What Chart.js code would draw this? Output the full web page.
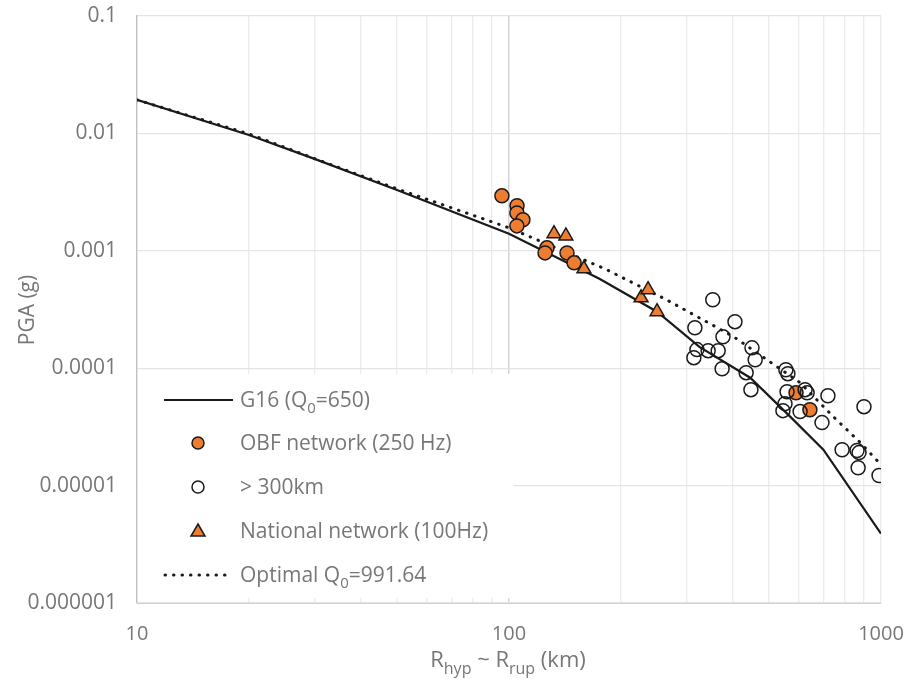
<!DOCTYPE html>
<html>
<head>
<meta charset="utf-8">
<script src="https://cdn.jsdelivr.net/npm/chart.js@4/dist/chart.umd.min.js"></script>
<style>
  html, body { margin: 0; padding: 0; background: #ffffff; }
  #wrap { width: 907px; height: 679px; }
</style>
</head>
<body>
<div id="wrap"><canvas id="pga_chart" width="907" height="679"></canvas></div>
<script>
// axis ticks
const xTicks = [10, 100, 1000];
const xTickLabels = ['10', '100', '1000'];
const yTicks = [0.000001, 0.00001, 0.0001, 0.001, 0.01, 0.1];
const yTickLabels = ['0.000001', '0.00001', '0.0001', '0.001', '0.01', '0.1'];

// G16 (Q0=650) curve
const g16R = [10, 20, 30, 50, 100, 175, 250, 325, 445, 570, 700, 1000];
const g16Pga = [0.0193, 0.0097, 0.00607, 0.0033, 0.0014, 0.000578, 0.000303, 0.000152, 0.000083, 0.0000387, 0.0000202, 0.0000039];

// Optimal Q0 = 991.64 curve
const optR = [10, 20, 30, 50, 100, 181, 265, 400, 606, 743, 873, 1000];
const optPga = [0.0193, 0.0099, 0.0061, 0.00337, 0.00157, 0.000703, 0.000383, 0.000187, 0.0000753, 0.0000389, 0.0000238, 0.0000151];

// OBF network (250 Hz)
const obfR = [95.7, 105.1, 105, 109, 105, 126.5, 125, 143.2, 149.6, 591, 644];
const obfPga = [0.00294, 0.00242, 0.0021, 0.00184, 0.00163, 0.00106, 0.00096, 0.00096, 0.00079, 0.0000618, 0.0000443];

// > 300km
const farR = [353, 405, 316, 376, 320, 343, 365, 314, 450, 459, 374, 434, 447, 555, 562, 559, 625, 633,
              720, 552, 545, 606, 694, 900, 786, 862, 873, 868, 988];
const farPga = [0.000383, 0.000249, 0.000221, 0.000185, 0.000144, 0.000141, 0.000141, 0.000123, 0.000149, 0.000118,
                0.000099, 0.0000916, 0.0000656, 0.000097, 0.0000898, 0.0000631, 0.0000656, 0.0000618,
                0.0000583, 0.0000499, 0.0000435, 0.0000427, 0.0000344, 0.000047, 0.0000202, 0.0000199, 0.0000191,
                0.0000142, 0.0000122];

// National network (100Hz)
const natR = [132.1, 142.2, 159, 226.5, 236.5, 250];
const natPga = [0.0014, 0.00134, 0.000703, 0.000398, 0.000466, 0.000303];

const ORANGE = '#ED7D31';
const TEXT_GRAY = '#777777';
const FONT = '"Open Sans", "DejaVu Sans", sans-serif';

function toPoints(xs, ys) {
    return xs.map(function(x, i) { return {x: x, y: ys[i]}; });
}

function minorTicks(min, max) {
    var out = [];
    for (var d = min; d < max; d *= 10) {
        for (var m = 1; m < 10; m++) out.push(Math.round(d * m * 1e6) / 1e6);
    }
    out.push(max);
    return out;
}

// text with subscript parts: [[text, isSub], ...]
function drawRich(ctx, parts, x, y, size, align) {
    var subSize = Math.round(size * 0.72);
    var total = 0;
    parts.forEach(function(p) {
        ctx.font = (p[1] ? subSize : size) + 'px ' + FONT;
        total += ctx.measureText(p[0]).width;
    });
    var cx = align === 'center' ? x - total / 2 : x;
    ctx.textAlign = 'left';
    ctx.textBaseline = 'alphabetic';
    parts.forEach(function(p) {
        ctx.font = (p[1] ? subSize : size) + 'px ' + FONT;
        ctx.fillText(p[0], cx, p[1] ? y + size * 0.3 : y);
        cx += ctx.measureText(p[0]).width;
    });
}

const legendItems = [
    {parts: [['G16 (Q', false], ['0', true], ['=650)', false]], kind: 'line'},
    {parts: [['OBF network (250 Hz)', false]], kind: 'orange'},
    {parts: [['> 300km', false]], kind: 'open'},
    {parts: [['National network (100Hz)', false]], kind: 'tri'},
    {parts: [['Optimal Q', false], ['0', true], ['=991.64', false]], kind: 'dots'}
];

const overlayPlugin = {
    id: 'overlay',
    beforeDatasetsDraw: function(chart) {
        var ctx = chart.ctx;
        var area = chart.chartArea;
        ctx.save();
        // legend box
        ctx.fillStyle = '#ffffff';
        ctx.fillRect(area.left + 1, 374, 375, 224);
        var rowY = [400, 443, 487, 531, 575];
        legendItems.forEach(function(item, i) {
            var y = rowY[i];
            ctx.strokeStyle = '#1a1a1a';
            ctx.fillStyle = '#ffffff';
            if (item.kind === 'line') {
                ctx.lineWidth = 2.2;
                ctx.beginPath(); ctx.moveTo(164, y); ctx.lineTo(233, y); ctx.stroke();
            } else if (item.kind === 'dots') {
                ctx.lineWidth = 3;
                ctx.lineCap = 'round';
                ctx.setLineDash([0.5, 8]);
                ctx.beginPath(); ctx.moveTo(165, y); ctx.lineTo(233, y); ctx.stroke();
                ctx.setLineDash([]);
                ctx.lineCap = 'butt';
            } else if (item.kind === 'orange' || item.kind === 'open') {
                ctx.lineWidth = 1.5;
                ctx.fillStyle = item.kind === 'orange' ? ORANGE : '#ffffff';
                ctx.beginPath(); ctx.arc(198, y, 6, 0, Math.PI * 2); ctx.fill(); ctx.stroke();
            } else if (item.kind === 'tri') {
                ctx.lineWidth = 1.5;
                ctx.fillStyle = ORANGE;
                ctx.beginPath();
                ctx.moveTo(198, y - 7); ctx.lineTo(205, y + 5); ctx.lineTo(191, y + 5);
                ctx.closePath(); ctx.fill(); ctx.stroke();
            }
            ctx.fillStyle = TEXT_GRAY;
            drawRich(ctx, item.parts, 240, y + 7, 21, 'left');
        });
        ctx.restore();
    },
    afterDraw: function(chart) {
        var ctx = chart.ctx;
        ctx.save();
        ctx.fillStyle = TEXT_GRAY;
        // x axis title
        drawRich(ctx, [['R', false], ['hyp', true], [' ~ R', false], ['rup', true], [' (km)', false]], 508, 667, 22, 'center');
        // y axis title
        ctx.translate(28, 310);
        ctx.rotate(-Math.PI / 2);
        ctx.font = '21px ' + FONT;
        ctx.textAlign = 'center';
        ctx.textBaseline = 'middle';
        ctx.fillText('PGA (g)', 0, 0);
        ctx.restore();
    }
};

document.addEventListener("DOMContentLoaded", function() {
    var statisticsItem = document.getElementById("pga_chart");

    var data = {
        datasets: [{
            label: 'G16 (Q0=650)',
            type: 'line',
            data: toPoints(g16R, g16Pga),
            borderColor: '#1a1a1a',
            borderWidth: 2.2,
            pointRadius: 0,
            fill: false,
            order: 5
        }, {
            label: 'OBF network (250 Hz)',
            data: toPoints(obfR, obfPga),
            backgroundColor: ORANGE,
            borderColor: '#1a1a1a',
            borderWidth: 1.5,
            pointRadius: 7,
            order: 3
        }, {
            label: '> 300km',
            data: toPoints(farR, farPga),
            backgroundColor: 'rgba(255,255,255,0)',
            borderColor: '#1a1a1a',
            borderWidth: 1.5,
            pointRadius: 7,
            order: 2
        }, {
            label: 'National network (100Hz)',
            data: toPoints(natR, natPga),
            pointStyle: 'triangle',
            backgroundColor: ORANGE,
            borderColor: '#1a1a1a',
            borderWidth: 1.5,
            pointRadius: 8,
            order: 1
        }, {
            label: 'Optimal Q0=991.64',
            type: 'line',
            data: toPoints(optR, optPga),
            borderColor: '#1a1a1a',
            borderWidth: 3,
            borderDash: [0.5, 8],
            borderCapStyle: 'round',
            pointRadius: 0,
            fill: false,
            order: 4
        }]
    };

    var options = {
        responsive: false,
        animation: false,
        layout: { padding: { top: 16, right: 26, left: 0, bottom: 0 } },
        plugins: {
            legend: { display: false },
            tooltip: { enabled: false }
        },
        scales: {
            x: {
                type: 'logarithmic',
                min: 10,
                max: 1000,
                afterBuildTicks: function(scale) {
                    scale.ticks = minorTicks(10, 1000).map(function(v) { return {value: v}; });
                },
                afterFit: function(scale) {
                    scale.height = 76;
                    scale.paddingLeft = 0;
                    scale.paddingRight = 0;
                },
                ticks: {
                    autoSkip: false,
                    maxRotation: 0,
                    padding: 19,
                    color: TEXT_GRAY,
                    font: { family: FONT, size: 20 },
                    callback: function(value) {
                        var i = xTicks.indexOf(value);
                        return i >= 0 ? xTickLabels[i] : '';
                    }
                },
                grid: {
                    drawTicks: false,
                    color: function(c) {
                        return c.tick && c.tick.value === 100 ? '#d4d4d4' : '#ececec';
                    },
                    lineWidth: function(c) {
                        return c.tick && c.tick.value === 100 ? 1.5 : 1.3;
                    }
                },
                border: { display: true, color: '#d0d0d0', width: 1 }
            },
            y: {
                type: 'logarithmic',
                min: 0.000001,
                max: 0.1,
                afterBuildTicks: function(scale) {
                    scale.ticks = yTicks.map(function(v) { return {value: v}; });
                },
                afterFit: function(scale) {
                    scale.width = 137;
                    scale.paddingTop = 0;
                    scale.paddingBottom = 0;
                },
                ticks: {
                    autoSkip: false,
                    padding: 20,
                    color: TEXT_GRAY,
                    font: { family: FONT, size: 21 },
                    callback: function(value) {
                        var i = yTicks.findIndex(function(t) { return Math.abs(t - value) / t < 1e-6; });
                        return i >= 0 ? yTickLabels[i] : '';
                    }
                },
                grid: {
                    drawTicks: false,
                    color: '#e4e4e4',
                    lineWidth: 1.3
                },
                border: { display: true, color: '#bfbfbf', width: 1.3 }
            }
        }
    };

    new Chart(statisticsItem, {
        type: 'scatter',
        data: data,
        options: options,
        plugins: [overlayPlugin]
    });
});
</script>
</body>
</html>
